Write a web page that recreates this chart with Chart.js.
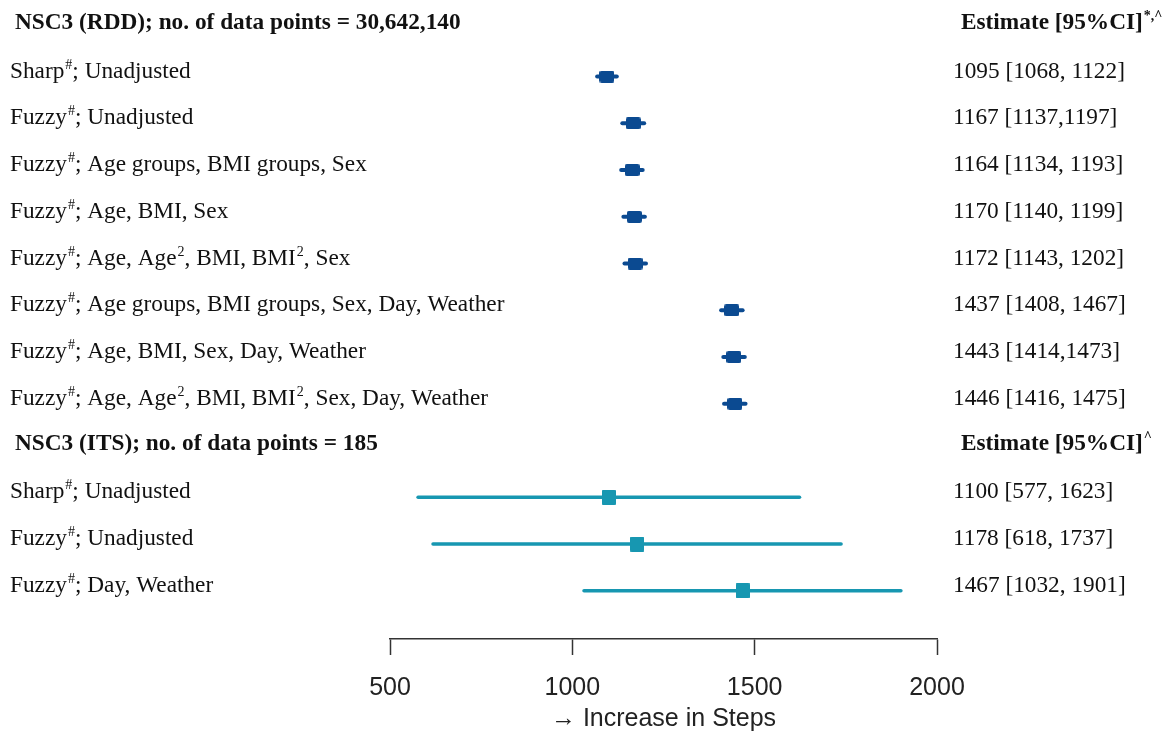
<!DOCTYPE html>
<html>
<head>
<meta charset="utf-8">
<script src="https://cdn.jsdelivr.net/npm/chart.js@4.4.1/dist/chart.umd.min.js"></script>
<style>
  html, body { margin: 0; padding: 0; background: #fff; }
  #wrap { width: 1169px; height: 731px; position: relative; }
</style>
</head>
<body>
<div id="wrap"><canvas id="forest"></canvas></div>
<script>
// RDD block
const rddTitle = 'NSC3 (RDD); no. of data points = 30,642,140';
const rddHead = 'Estimate [95%CI]<sup>*,^</sup>';
const rddLabels = [
  'Sharp<sup>#</sup>; Unadjusted',
  'Fuzzy<sup>#</sup>; Unadjusted',
  'Fuzzy<sup>#</sup>; Age groups, BMI groups, Sex',
  'Fuzzy<sup>#</sup>; Age, BMI, Sex',
  'Fuzzy<sup>#</sup>; Age, Age<sup>2</sup>, BMI, BMI<sup>2</sup>, Sex',
  'Fuzzy<sup>#</sup>; Age groups, BMI groups, Sex, Day, Weather',
  'Fuzzy<sup>#</sup>; Age, BMI, Sex, Day, Weather',
  'Fuzzy<sup>#</sup>; Age, Age<sup>2</sup>, BMI, BMI<sup>2</sup>, Sex, Day, Weather'
];
const rddEst = [1095, 1167, 1164, 1170, 1172, 1437, 1443, 1446];
const rddLow = [1068, 1137, 1134, 1140, 1143, 1408, 1414, 1416];
const rddHigh = [1122, 1197, 1193, 1199, 1202, 1467, 1473, 1475];
const rddText = [
  '1095 [1068, 1122]', '1167 [1137,1197]', '1164 [1134, 1193]', '1170 [1140, 1199]',
  '1172 [1143, 1202]', '1437 [1408, 1467]', '1443 [1414,1473]', '1446 [1416, 1475]'
];

// ITS block
const itsTitle = 'NSC3 (ITS); no. of data points = 185';
const itsHead = 'Estimate [95%CI]<sup>^</sup>';
const itsLabels = [
  'Sharp<sup>#</sup>; Unadjusted',
  'Fuzzy<sup>#</sup>; Unadjusted',
  'Fuzzy<sup>#</sup>; Day, Weather'
];
const itsEst = [1100, 1178, 1467];
const itsLow = [577, 618, 1032];
const itsHigh = [1623, 1737, 1901];
const itsText = ['1100 [577, 1623]', '1178 [618, 1737]', '1467 [1032, 1901]'];

const xTicks = [500, 1000, 1500, 2000];
const xTitle = '\u2192 Increase in Steps';

const rddColor = '#0b4a91';
const itsColor = '#1797b1';

// rows: header, items, header, items
const rows = [];
rows.push({ header: true, left: rddTitle, right: rddHead });
rddLabels.forEach((l, i) => rows.push({ left: l, right: rddText[i], est: rddEst[i], lo: rddLow[i], hi: rddHigh[i], group: 'rdd' }));
rows.push({ header: true, left: itsTitle, right: itsHead });
itsLabels.forEach((l, i) => rows.push({ left: l, right: itsText[i], est: itsEst[i], lo: itsLow[i], hi: itsHigh[i], group: 'its' }));

function makeBox(w, h, color, r) {
  const c = document.createElement('canvas');
  c.width = w; c.height = h;
  const g = c.getContext('2d');
  g.fillStyle = color;
  g.beginPath();
  g.roundRect(0, 0, w, h, r);
  g.fill();
  return c;
}
const rddBox = makeBox(15, 12, rddColor, 2);
const itsBox = makeBox(14, 15, itsColor, 1);

const datasets = [];
['rdd', 'its'].forEach(grp => {
  const pts = [];
  rows.forEach((r, i) => { if (r.group === grp) pts.push({ x: r.est, y: i }); });
  datasets.push({
    data: pts,
    showLine: false,
    pointStyle: grp === 'rdd' ? rddBox : itsBox,
    pointRadius: 8
  });
});
rows.forEach((r, i) => {
  if (r.header) return;
  datasets.push({
    data: [{ x: r.lo, y: i }, { x: r.hi, y: i }],
    showLine: true,
    borderColor: r.group === 'rdd' ? rddColor : itsColor,
    borderWidth: r.group === 'rdd' ? 4 : 3.5,
    borderCapStyle: 'round',
    pointRadius: 0
  });
});

function drawRich(ctx, str, x, y, bold) {
  const base = bold ? 'bold 23.3px "Liberation Serif"' : '23.3px "Liberation Serif"';
  const sup = bold ? 'bold 14px "Liberation Serif"' : '14px "Liberation Serif"';
  const parts = str.split(/(<sup>.*?<\/sup>)/);
  let cx = x;
  parts.forEach(p => {
    if (!p) return;
    if (p.startsWith('<sup>')) {
      const t = p.replace(/<\/?sup>/g, '');
      ctx.font = sup;
      ctx.fillText(t, cx + 1, y - 9);
      cx += ctx.measureText(t).width + 1;
    } else {
      ctx.font = base;
      ctx.fillText(p, cx, y);
      cx += ctx.measureText(p).width;
    }
  });
}

const textColumns = {
  id: 'textColumns',
  afterDraw(chart) {
    const ctx = chart.ctx;
    const ys = chart.scales.y;
    ctx.save();
    ctx.fillStyle = '#111';
    ctx.textBaseline = 'alphabetic';
    ctx.textAlign = 'left';
    rows.forEach((r, i) => {
      const y = ys.getPixelForValue(i) + (r.header ? -1 : 1);
      drawRich(ctx, r.left, r.header ? 15 : 10, y, r.header);
      drawRich(ctx, r.right, r.header ? 961 : 953, y, r.header);
    });
    ctx.restore();
  }
};

new Chart(document.getElementById('forest'), {
  type: 'scatter',
  data: { datasets },
  options: {
    responsive: true,
    maintainAspectRatio: false,
    animation: false,
    layout: { autoPadding: false, padding: { left: 390, right: 232, top: 0, bottom: 0 } },
    plugins: { legend: { display: false }, tooltip: { enabled: false } },
    scales: {
      x: {
        type: 'linear',
        min: 500,
        max: 2000,
        afterBuildTicks: axis => { axis.ticks = xTicks.map(v => ({ value: v })); },
        grid: { drawOnChartArea: false, tickLength: 16, tickColor: '#333', tickWidth: 1.5 },
        border: { color: '#333', width: 1.5 },
        ticks: {
          color: '#222', padding: 18, maxRotation: 0,
          font: { family: '"Liberation Sans"', size: 25 },
          callback: v => String(v)
        },
        title: { display: true, text: xTitle, color: '#222', padding: { top: -17, bottom: -3 }, font: { family: '"Liberation Sans"', size: 25 } }
      },
      y: {
        type: 'linear',
        display: false,
        reverse: true,
        min: -0.638,
        max: 13.03
      }
    }
  },
  plugins: [textColumns]
});
</script>
</body>
</html>
